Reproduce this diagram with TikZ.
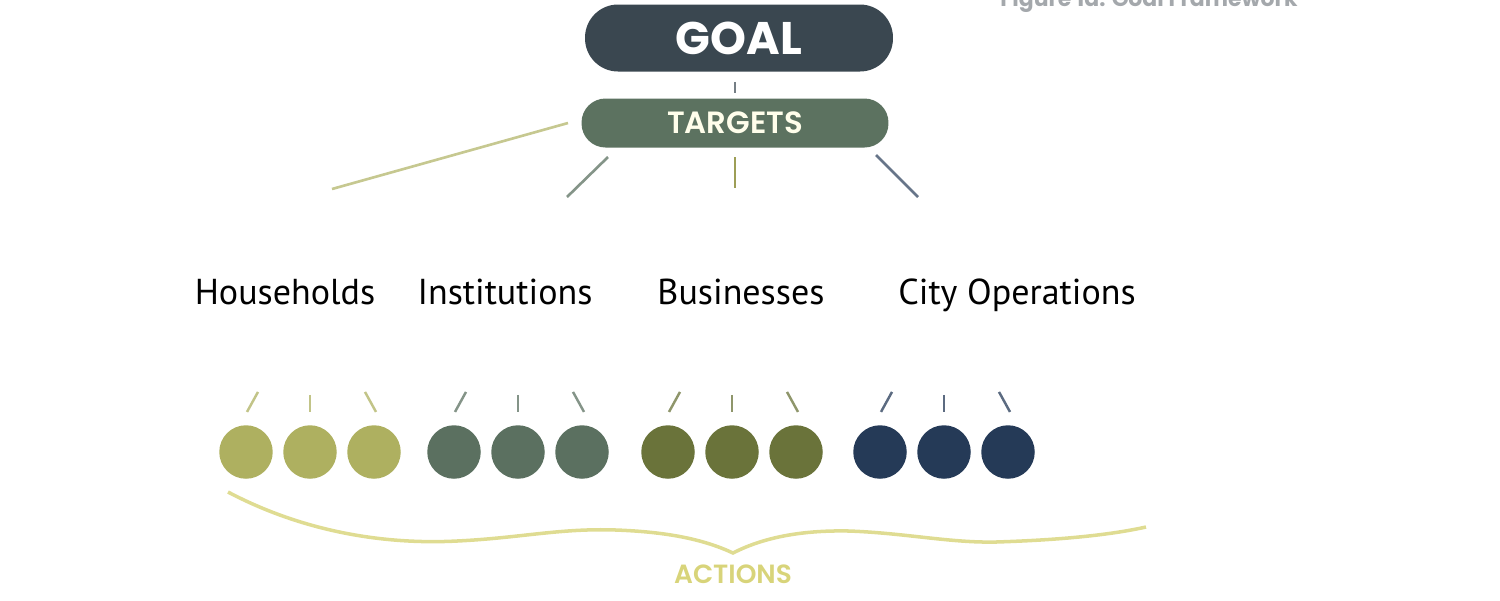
\documentclass[tikz,border=0pt]{standalone}
\usepackage{fontspec}
\setmainfont{PT Sans}
\newfontfamily\boxfont{Poppins}
\newfontfamily\boxsemi{Poppins}[UprightFont=* SemiBold]
\usepackage{tikz}
\usetikzlibrary{positioning,calc}
\definecolor{goalfill}{HTML}{3A4750}
\definecolor{targetfill}{HTML}{5C7260}
\definecolor{hhcol}{HTML}{AEB060}
\definecolor{inscol}{HTML}{5B7060}
\definecolor{buscol}{HTML}{6A733A}
\definecolor{citycol}{HTML}{253A57}
\definecolor{bracecol}{HTML}{DFDC92}
\definecolor{actcol}{HTML}{D8D47A}
\definecolor{headgray}{HTML}{A4A8AC}

\begin{document}
\begin{tikzpicture}[x=0.02cm, y=-0.02cm,
  pill/.style={rounded corners=15pt, minimum height=#1, align=center},
  action/.style={circle, minimum size=1.07cm, inner sep=0pt},
  tick/.style={line width=1.4pt}]
  \useasboundingbox (0,0) rectangle (1500,600);
  % header, cut off at the top
  \node[headgray, font=\boxfont\bfseries\fontsize{12.5}{14}\selectfont, anchor=base west, inner sep=0pt]
    (caption) at (1000,6) {Figure 1a: Goal Framework};
  % goal and targets
  \node[pill=1.34cm, fill=goalfill, minimum width=6.16cm, rounded corners=0.66cm,
    text=white, font=\boxfont\bfseries\fontsize{26}{28}\selectfont] (goal) at (739,38) {GOAL};
  \node[pill=0.98cm, fill=targetfill, minimum width=6.14cm, rounded corners=0.48cm,
    text=white!92!yellow, font=\boxsemi\fontsize{17.5}{19}\selectfont] (targets) at (735,123) {TARGETS};
  \draw[line width=1.3pt, goalfill!70] ($(goal.south)+(-4,10)$) -- ($(targets.north)+(0,-5)$);
  % branches to the sectors
  \coordinate (b1s) at (568,123); \coordinate (b1e) at (332,189);
  \coordinate (b2s) at (608,157); \coordinate (b2e) at (567,197);
  \coordinate (b3s) at (735,157); \coordinate (b3e) at (735,188);
  \coordinate (b4s) at (876,155); \coordinate (b4e) at (918,197);
  \draw[line width=1.5pt, hhcol!70] (b1s) -- (b1e);
  \draw[line width=1.5pt, inscol!75] (b2s) -- (b2e);
  \draw[line width=1.5pt, hhcol!90!black] (b3s) -- (b3e);
  \draw[line width=1.5pt, citycol!70] (b4s) -- (b4e);
  % sector labels
  \node[font=\fontsize{20.5}{22}\selectfont, anchor=base] (households) at (285,304) {Households};
  \node[font=\fontsize{20.5}{22}\selectfont, anchor=base] (institutions) at (505,304) {Institutions};
  \node[font=\fontsize{20.5}{22}\selectfont, anchor=base] (businesses) at (741,304) {Businesses};
  \node[font=\fontsize{20.5}{22}\selectfont, anchor=base] (cityops) at (1017,304) {City Operations};
  % actions: three per sector
  \foreach \g/\x/\col in {1/246/hhcol, 2/454/inscol, 3/668/buscol, 4/880/citycol} {
    \node[action, fill=\col] (a\g1) at (\x,452) {};
    \node[action, fill=\col] (a\g2) at (\x+64,452) {};
    \node[action, fill=\col] (a\g3) at (\x+128,452) {};
    \draw[tick, \col!75] ($(a\g1.north)+(12,-33)$) -- ($(a\g1.north)+(1,-13)$);
    \draw[tick, \col!75] ($(a\g2.north)+(0,-30)$) -- ($(a\g2.north)+(0,-13)$);
    \draw[tick, \col!75] ($(a\g3.north)+(-9,-33)$) -- ($(a\g3.north)+(2,-13)$);
  }
  % brace over all actions
  \coordinate (brl) at (228,492);
  \coordinate (brtip) at (733,553);
  \coordinate (brr) at (1146,527);
  \draw[line width=2pt, bracecol] (brl) .. controls (300,530) and (380,545) .. (457,541)
    .. controls (520,538) and (560,528) .. (616,530)
    .. controls (670,532) and (705,540) .. (brtip)
    .. controls (762,538) and (800,530) .. (849,531)
    .. controls (905,533) and (950,543) .. (996,542)
    .. controls (1060,540) and (1110,535) .. (brr);
  \node[actcol, font=\boxsemi\fontsize{15}{17}\selectfont, below=3pt of brtip] (actions) {ACTIONS};
\end{tikzpicture}
\end{document}
